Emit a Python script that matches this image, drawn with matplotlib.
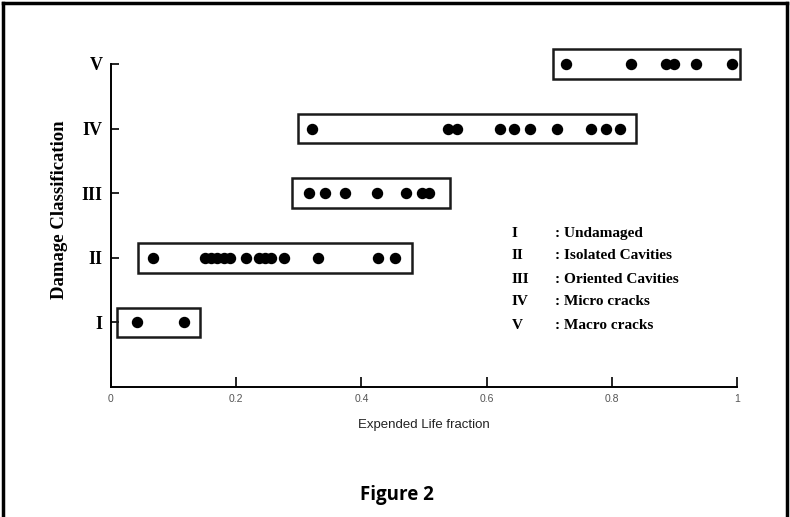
import matplotlib.pyplot as plt
from matplotlib.patches import Rectangle
from matplotlib.lines import Line2D

# Damage classes and the expended life fractions
classes = ["I", "II", "III", "IV", "V"]
class_levels = [1, 2, 3, 4, 5]
descriptions = ["Undamaged", "Isolated Cavities", "Oriented Cavities",
                "Micro cracks", "Macro cracks"]

life_I = [0.042, 0.117]
life_II = [0.067, 0.15, 0.16, 0.17, 0.18, 0.19, 0.216, 0.236, 0.246, 0.256,
           0.276, 0.331, 0.427, 0.454]
life_III = [0.316, 0.342, 0.374, 0.425, 0.471, 0.497, 0.508]
life_IV = [0.321, 0.538, 0.553, 0.621, 0.644, 0.669, 0.712, 0.767, 0.791, 0.813]
life_V = [0.727, 0.831, 0.887, 0.899, 0.934, 0.992]

# box extents (left, right) around each group
box_I = (0.010, 0.142)
box_II = (0.043, 0.481)
box_III = (0.289, 0.542)
box_IV = (0.299, 0.839)
box_V = (0.706, 1.005)

x_ticks = [0, 0.2, 0.4, 0.6, 0.8, 1]
x_tick_labels = ["0", "0.2", "0.4", "0.6", "0.8", "1"]

groups = [life_I, life_II, life_III, life_IV, life_V]
boxes = [box_I, box_II, box_III, box_IV, box_V]

serif = ["Liberation Serif", "DejaVu Serif"]
sans = ["Liberation Sans", "DejaVu Sans"]

fig = plt.figure(figsize=(7.9, 5.17), dpi=100)
ax = fig.add_axes([0.1405, 0.2515, 0.7924, 0.6248])

half_h = 0.23
for level, vals, (x0, x1) in zip(class_levels, groups, boxes):
    ax.plot(vals, [level] * len(vals), 'o', color='black', markersize=7.2,
            clip_on=False, zorder=3)
    ax.add_patch(Rectangle((x0, level - half_h), x1 - x0, 2 * half_h,
                           fill=False, edgecolor='#1a1a1a', linewidth=1.8,
                           clip_on=False, zorder=2))

ax.set_xlim(0, 1)
ax.set_ylim(0, 5)
ax.spines['top'].set_visible(False)
ax.spines['right'].set_visible(False)
ax.spines['left'].set_linewidth(1.4)
ax.spines['bottom'].set_linewidth(1.4)

ax.set_xticks(x_ticks)
ax.set_xticklabels(x_tick_labels, fontsize=7.5, color='#555555', family=sans)
ax.set_yticks(class_levels)
ax.set_yticklabels(classes, fontsize=13, fontweight='bold', family=serif)
ax.tick_params(axis='x', direction='in', length=7, width=1.2, pad=5)
ax.tick_params(axis='y', direction='in', length=6, width=1.2, pad=6)

ax.set_xlabel("Expended Life fraction", fontsize=9.5, color='#222222',
              family=sans, labelpad=11)
ax.set_ylabel("Damage Classification", fontsize=13.5, fontweight='bold',
              family=serif)
ax.yaxis.set_label_coords(-0.068, 0.55)

# legend-like key of the classes
key_y = [0.549, 0.505, 0.460, 0.416, 0.371]
for cls, desc, yy in zip(classes, descriptions, key_y):
    fig.text(0.648, yy, cls, fontsize=11, fontweight='bold', family=serif,
             va='center', ha='left')
    fig.text(0.703, yy, ": " + desc, fontsize=11, fontweight='bold',
             family=serif, va='center', ha='left')

fig.text(0.502, 0.043, "Figure 2", fontsize=13.5, fontweight='bold',
         family=["Open Sans", "DejaVu Sans"], ha='center', va='center')

# page frame around the figure
for xs, ys in [([0.004, 0.004], [0, 0.995]), ([0.996, 0.996], [0, 0.995]),
               ([0.004, 0.996], [0.995, 0.995])]:
    fig.add_artist(Line2D(xs, ys, color='black', linewidth=2.5,
                          transform=fig.transFigure))

fig.savefig("out.png", dpi=100)
